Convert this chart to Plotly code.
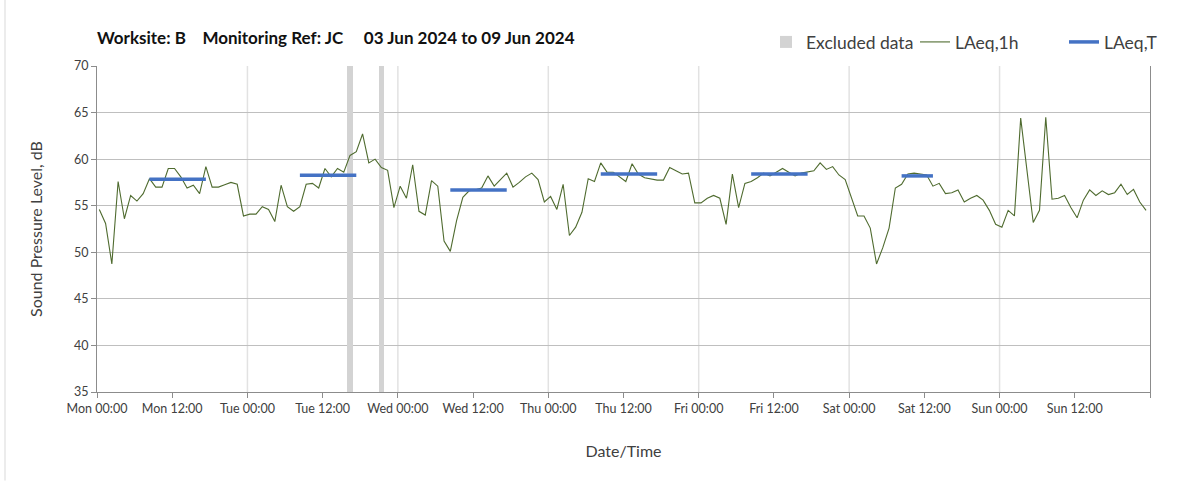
import numpy as np
import pandas as pd
import plotly.graph_objects as go

# ---------------- data ----------------
start = pd.Timestamp("2024-06-03 00:00")

laeq_1h = [
    54.6, 53.1, 48.75, 57.6, 53.6, 56.1, 55.5, 56.3, 57.9, 57.0, 57.0, 59.0, 59.0, 58.1, 56.9, 57.2, 56.3, 59.2, 57.0, 57.0, 57.25, 57.5, 57.3, 53.9,
    54.1, 54.1, 54.9, 54.6, 53.3, 57.2, 54.9, 54.4, 54.9, 57.3, 57.4, 56.9, 59.0, 58.1, 59.0, 58.6, 60.4, 60.8, 62.7, 59.6, 60.0, 59.1, 58.8, 54.8,
    57.1, 55.8, 59.4, 54.4, 54.0, 57.7, 57.1, 51.2, 50.1, 53.4, 55.9, 56.6, 56.7, 56.9, 58.2, 57.1, 57.8, 58.5, 57.0, 57.5, 58.1, 58.5, 57.8, 55.4,
    56.0, 54.6, 57.3, 51.8, 52.7, 54.3, 57.9, 57.6, 59.6, 58.6, 58.6, 58.1, 57.6, 59.5, 58.4, 58.0, 57.9, 57.75, 57.75, 59.1, 58.75, 58.4, 58.5, 55.3,
    55.3, 55.8, 56.1, 55.8, 53.0, 58.4, 54.8, 57.4, 57.6, 58.0, 58.5, 58.2, 58.6, 59.0, 58.6, 58.2, 58.5, 58.6, 58.75, 59.6, 58.9, 59.2, 58.3, 57.8,
    55.8, 53.9, 53.9, 52.6, 48.75, 50.5, 52.6, 56.9, 57.3, 58.4, 58.5, 58.4, 58.3, 57.1, 57.4, 56.3, 56.4, 56.7, 55.4, 55.8, 56.1, 55.6, 54.5, 53.0,
    52.7, 54.5, 53.9, 64.4, 58.8, 53.2, 54.5, 64.5, 55.7, 55.8, 56.1, 54.8, 53.7, 55.6, 56.7, 56.1, 56.6, 56.2, 56.4, 57.3, 56.2, 56.75, 55.4, 54.5,
]

# LAeq,T periods (hour index of first and last hourly value, level)
period_start_hour = [8, 32, 56, 80, 104, 128]
period_end_hour = [17, 41, 65, 89, 113, 133]
laeq_t = [57.85, 58.27, 56.7, 58.4, 58.4, 58.2]

# hours flagged as excluded
excluded_hours = [40, 45]

tick_labels = ["Mon 00:00", "Mon 12:00", "Tue 00:00", "Tue 12:00", "Wed 00:00", "Wed 12:00",
               "Thu 00:00", "Thu 12:00", "Fri 00:00", "Fri 12:00", "Sat 00:00", "Sat 12:00",
               "Sun 00:00", "Sun 12:00", ""]

# ---------------- build ----------------
POINT_OFFSET_H = 0.37
hour_idx = np.arange(len(laeq_1h))
times = [start + pd.Timedelta(hours=float(h) + POINT_OFFSET_H) for h in hour_idx]

t_x, t_y = [], []
for s, e, v in zip(period_start_hour, period_end_hour, laeq_t):
    t_x += [times[s], times[e], None]
    t_y += [v, v, None]

ex_x = [times[h] for h in excluded_hours]

FONT = "Lato, 'Open Sans', sans-serif"
TXT = "#404040"

fig = go.Figure()
fig.add_trace(go.Bar(
    x=ex_x, y=[35] * len(ex_x), base=35, width=0.85 * 3600 * 1000,
    marker=dict(color="#D3D3D3", line=dict(width=0)), name="Excluded data",
))
fig.add_trace(go.Scatter(
    x=times, y=laeq_1h, mode="lines", name="LAeq,1h",
    line=dict(color="#4F6B2F", width=1.1),
))
fig.add_trace(go.Scatter(
    x=t_x, y=t_y, mode="lines", name="LAeq,T",
    line=dict(color="#4472C4", width=3.5),
))

# daily vertical gridlines
shapes = []
for d in range(1, 7):
    xd = start + pd.Timedelta(days=d)
    shapes.append(dict(type="line", xref="x", yref="paper", x0=xd, x1=xd, y0=0, y1=1,
                       line=dict(color="#E2E2E2", width=1.5), layer="below"))
# chart-area left border
shapes.append(dict(type="line", xref="paper", yref="paper",
                   x0=(5 - 97) / 1053, x1=(5 - 97) / 1053,
                   y0=(392.3 - 481) / 326.6, y1=(392.3 + 5) / 326.6,
                   line=dict(color="#D9D9D9", width=1), layer="below"))

tickvals = [start + pd.Timedelta(hours=12 * k) for k in range(len(tick_labels))]

fig.update_layout(
    width=1203, height=481,
    margin=dict(l=97, r=53, t=66, b=89, autoexpand=False),
    paper_bgcolor="white", plot_bgcolor="white",
    font=dict(family=FONT, color=TXT, size=12),
    title=dict(text="<b>Worksite: B&nbsp;&nbsp;&nbsp;&nbsp;Monitoring Ref: JC&nbsp;&nbsp;&nbsp;&nbsp;&nbsp;03 Jun 2024 to 09 Jun 2024</b>",
               x=0, xref="paper", xanchor="left", y=1 - 38 / 481, yanchor="middle",
               font=dict(family=FONT, size=17, color="#111111")),
    legend=dict(orientation="h", x=(766 - 97) / 1053, xanchor="left", y=1 + 24 / 326.6, yanchor="middle",
                font=dict(family=FONT, size=17.5, color=TXT), bgcolor="rgba(0,0,0,0)",
                traceorder="normal", entrywidth=104, entrywidthmode="pixels"),
    showlegend=True,
    shapes=shapes,
    bargap=0,
)
fig.update_xaxes(
    type="date", range=[start, start + pd.Timedelta(days=7)],
    tickvals=tickvals, ticktext=tick_labels,
    ticks="outside", ticklen=5, tickcolor="#8C8C8C",
    showline=True, linecolor="#8C8C8C", linewidth=1,
    showgrid=False, zeroline=False,
    tickfont=dict(family=FONT, size=12.5, color=TXT),
    title=dict(text="Date/Time", standoff=30, font=dict(family=FONT, size=16, color=TXT)),
)
fig.update_yaxes(
    range=[35, 70], dtick=5, tick0=35,
    ticks="outside", ticklen=5, tickcolor="#8C8C8C",
    showline=True, linecolor="#8C8C8C", linewidth=1, mirror=True,
    showgrid=True, gridcolor="#BFBFBF", gridwidth=1, zeroline=False,
    tickfont=dict(family=FONT, size=12.5, color=TXT),
    title=dict(text="Sound Pressure Level, dB", standoff=27, font=dict(family=FONT, size=16, color=TXT)),
)

fig.write_html("out.html", config={"displayModeBar": False},
               post_script="document.body.style.margin='0';document.body.style.padding='0';")
